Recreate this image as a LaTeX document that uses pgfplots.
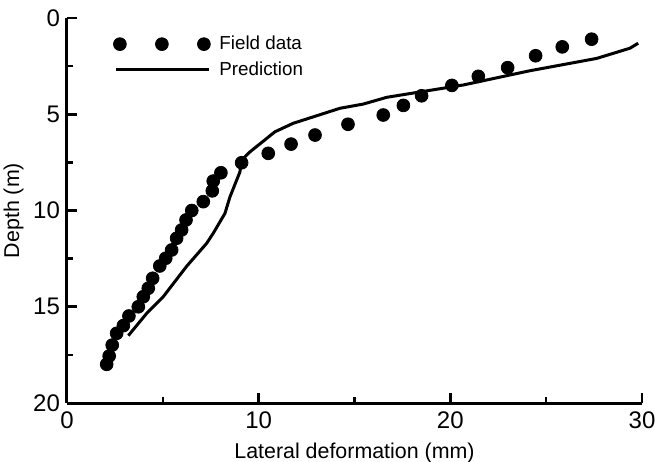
\documentclass[border=0pt]{standalone}
\usepackage{pgfplots}
\pgfplotsset{compat=1.18}
\usepackage{fontspec}
\setmainfont{Liberation Sans}
\begin{document}
\begin{tikzpicture}
\begin{axis}[
  scale only axis,
  width=287.5pt, height=192.5pt,
  xmin=0, xmax=30, ymin=0, ymax=20,
  y dir=reverse,
  axis x line*=bottom, axis y line*=left,
  axis line style={line width=1.5pt},
  xtick={0,10,20,30}, ytick={0,5,10,15,20},
  minor x tick num=1, minor y tick num=1,
  tick align=inside,
  major tick length=5pt, minor tick length=3pt,
  every tick/.style={black, line width=1.3pt},
  /pgf/number format/assume math mode=true,
  tick label style={font=\fontsize{12}{14}\selectfont},
  label style={font=\fontsize{10.7}{12}\selectfont},
  xlabel={Lateral deformation (mm)},
  ylabel={Depth (m)},
  ylabel style={yshift=-2pt},
  xticklabel style={yshift=-1pt},
  legend style={draw=none, fill=none, at={(axis cs:12.856,0.49)}, anchor=north east,
    font=\fontsize{9.4}{11}\selectfont, row sep=0.5pt,
    legend cell align=left},
  clip=false,
]
\addplot[only marks, mark=*, mark size=3.2pt, black,
  legend image code/.code={\path (-6pt,0pt) (45pt,0pt);\foreach \xx in {-2pt,19pt,40pt}{\fill[black] (\xx,0pt) circle (3.2pt);}}]
 table {
27.37 1.1
25.84 1.5
24.45 1.96
22.99 2.58
21.46 3.03
20.08 3.5
18.5 4.04
17.55 4.54
16.5 5.04
14.66 5.52
12.94 6.08
11.69 6.55
10.5 7.03
9.11 7.52
8.03 8.04
7.63 8.47
7.58 8.98
7.11 9.54
6.51 10.0
6.21 10.49
5.98 11.01
5.72 11.44
5.46 12.05
5.15 12.48
4.84 12.88
4.47 13.52
4.24 14.04
3.98 14.48
3.72 15.0
3.23 15.48
2.94 15.98
2.59 16.38
2.36 16.99
2.2 17.56
2.07 17.99
};
\addlegendentry{Field data}
\addplot[black, line width=1.5pt, no marks,
  legend image code/.code={\path (-6pt,0pt) (45pt,0pt);\draw[black, line width=1.5pt] (-4pt,0pt) -- (42.5pt,0pt);}]
 table {
3.2 16.5
4.16 15.34
5.02 14.48
6.24 12.9
7.29 11.7
7.63 11.18
8.24 10.15
8.5 9.3
9.02 8.0
9.11 7.38
9.55 6.95
10.85 5.91
11.8 5.47
14.24 4.69
15.46 4.47
16.68 4.12
20.67 3.48
24.15 2.74
27.63 2.1
29.37 1.57
29.8 1.31
};
\addlegendentry{Prediction}
\end{axis}
\pgfresetboundingbox
\path[use as bounding box] ([shift={(-33.5pt,-29pt)}]current axis.south west) rectangle ([shift={(6.5pt,9pt)}]current axis.north east);
\end{tikzpicture}
\end{document}
